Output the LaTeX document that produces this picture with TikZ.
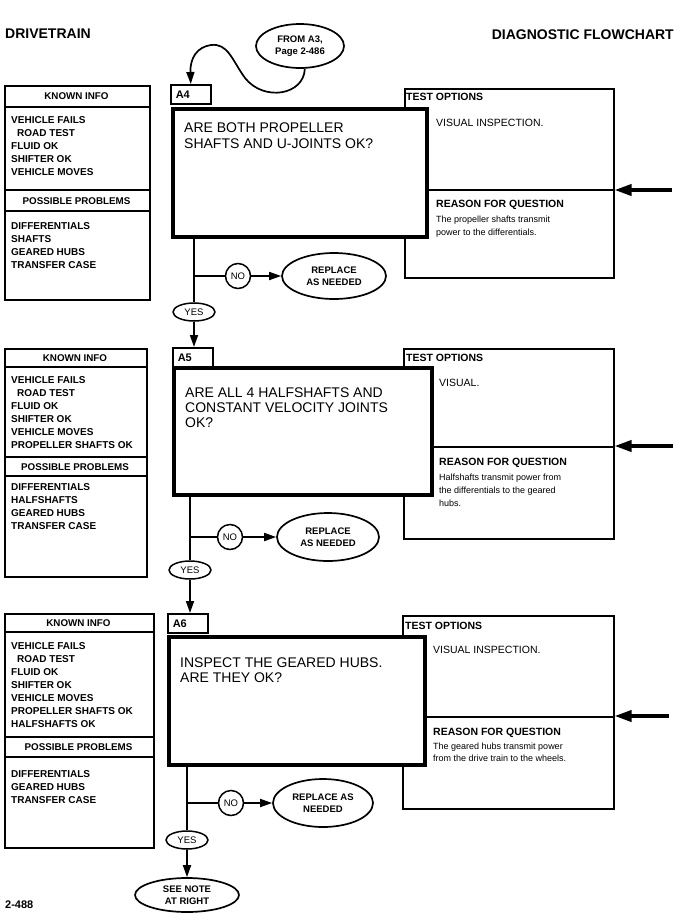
\documentclass[tikz,border=0pt]{standalone}
\usepackage{fontspec}
\setmainfont{Liberation Sans}
\usetikzlibrary{shapes.geometric,arrows.meta}
\tikzset{
  every node/.style={inner sep=0pt},
  hdr/.style={font=\bfseries\fontsize{14}{16}\selectfont, text height=10pt, text depth=0pt},
  pg/.style={anchor=west, font=\bfseries\fontsize{11}{13}\selectfont, text height=7.9pt, text depth=0pt},
  kb/.style={anchor=west, font=\bfseries\fontsize{10}{12}\selectfont, text height=7.2pt, text depth=0pt},
  kh/.style={anchor=center, font=\bfseries\fontsize{9.8}{12}\selectfont, text height=7pt, text depth=0pt},
  qt/.style={anchor=west, font=\fontsize{14}{16}\selectfont, text height=10pt, text depth=0pt},
  toh/.style={anchor=west, font=\bfseries\fontsize{10.5}{12}\selectfont, text height=7.5pt, text depth=0pt},
  tov/.style={anchor=west, font=\fontsize{10.5}{12}\selectfont, text height=7.5pt, text depth=0pt},
  rb/.style={anchor=west, font=\fontsize{9}{11}\selectfont, text height=6.4pt, text depth=0pt},
  lbl/.style={draw, line width=1.5pt, anchor=north west, inner xsep=5pt, text width=30pt, minimum height=19pt, align=left, font=\bfseries\fontsize{11}{12}\selectfont, text height=7.9pt, text depth=0pt},
  thinbox/.style={draw, line width=1.5pt, anchor=north west},
  thin/.style={line width=1.5pt},
  qbox/.style={draw, fill=white, line width=4.2pt, anchor=north west},
  oval/.style={draw, ellipse, line width=1.7pt, align=center, font=\bfseries\fontsize{9.5}{11.5}\selectfont},
  yesov/.style={draw, ellipse, line width=1.5pt, fill=white, minimum width=42pt, minimum height=18pt, font=\fontsize{9.5}{10}\selectfont},
  nocirc/.style={draw, circle, line width=1.5pt, fill=white, minimum size=25pt, font=\fontsize{9.5}{10}\selectfont},
  flow/.style={line width=1.7pt},
  arr/.style={line width=1.7pt, -{Triangle[length=12pt,width=8pt]}},
  bigarr/.style={line width=3.6pt, -{Triangle[length=17pt,width=11pt]}},
}
\begin{document}
\begin{tikzpicture}[x=1pt,y=-1pt]
\useasboundingbox (0,0) rectangle (684,924);
\fill[white] (0,0) rectangle (684,924);

% headers
\node[hdr, anchor=west] (h1) at (5,33) {DRIVETRAIN};
\node[hdr, anchor=east] (h2) at (674,34) {DIAGNOSTIC FLOWCHART};
\node[pg] (pn) at (5,905) {2-488};

% entry
\node[oval, minimum width=88pt, minimum height=44pt] (from) at (300,46) {FROM A3,\\Page 2-486};

% ================= A4 =================
\node[thinbox, minimum width=145pt, minimum height=214pt] (k4) at (4,85) {};
\draw[thin] (4,107) -- (149,107);
\draw[thin] (4,190) -- (149,190);
\draw[thin] (4,211) -- (149,211);
\node[kh] (k4h) at (76.5,96) {KNOWN INFO};
\node[kb] (k4a) at (11,120) {VEHICLE FAILS};
\node[kb] (k4b) at (17,133) {ROAD TEST};
\node[kb] (k4c) at (11,146) {FLUID OK};
\node[kb] (k4d) at (11,159) {SHIFTER OK};
\node[kb] (k4e) at (11,172) {VEHICLE MOVES};
\node[kh] (p4h) at (76.5,201) {POSSIBLE PROBLEMS};
\node[kb] (p4a) at (11,226) {DIFFERENTIALS};
\node[kb] (p4b) at (11,239) {SHAFTS};
\node[kb] (p4c) at (11,252) {GEARED HUBS};
\node[kb] (p4d) at (11,265) {TRANSFER CASE};

\node[lbl] (a4) at (170,84) {A4};
\node[thinbox, minimum width=209pt, minimum height=189pt] (t4) at (404,88) {};
\node[qbox, minimum width=254pt, minimum height=128pt] (q4) at (171,107) {};
\draw[thin] (q4.east |- 0,190) -- (t4.east |- 0,190);
\node[toh] (t4h) at (406,97) {TEST OPTIONS};
\node[tov] (t4v) at (436,123) {VISUAL INSPECTION.};
\node[toh] (r4h) at (436,204) {REASON FOR QUESTION};
\node[rb] (r4a) at (436,219) {The propeller shafts transmit};
\node[rb] (r4b) at (436,232) {power to the differentials.};
\node[qt] (q4a) at (184,127) {ARE BOTH PROPELLER};
\node[qt] (q4b) at (184,143) {SHAFTS AND U-JOINTS OK?};
\coordinate (e4) at (672,190);
\draw[bigarr] (e4) -- (t4.east |- e4);

\draw[arr] (from.282) .. controls (304,95) and (264,102) .. (245,78)
  .. controls (232,60) and (228,43) .. (211,45)
  .. controls (197,47) and (190,58) .. (a4.north);

\node[yesov] (yes4) at (194,312) {YES};
\node[nocirc] (no4) at (238,276) {NO};
\node[oval, minimum width=104pt, minimum height=46pt] (rep4) at (334,276) {REPLACE\\AS NEEDED};
\coordinate (j4) at (194,276);
\draw[flow] (q4.south -| yes4.north) -- (yes4.north);
\draw[flow] (j4) -- (no4.west);
\draw[arr] (no4.east) -- (rep4.west);

% ================= A5 =================
\node[thinbox, minimum width=142pt, minimum height=228pt] (k5) at (4,348) {};
\draw[thin] (4,367) -- (146,367);
\draw[thin] (4,457) -- (146,457);
\draw[thin] (4,476) -- (146,476);
\node[kh] (k5h) at (75,358) {KNOWN INFO};
\node[kb] (k5a) at (11,380) {VEHICLE FAILS};
\node[kb] (k5b) at (17,393) {ROAD TEST};
\node[kb] (k5c) at (11,406) {FLUID OK};
\node[kb] (k5d) at (11,419) {SHIFTER OK};
\node[kb] (k5e) at (11,432) {VEHICLE MOVES};
\node[kb] (k5f) at (11,445) {PROPELLER SHAFTS OK};
\node[kh] (p5h) at (75,467) {POSSIBLE PROBLEMS};
\node[kb] (p5a) at (11,487) {DIFFERENTIALS};
\node[kb] (p5b) at (11,500) {HALFSHAFTS};
\node[kb] (p5c) at (11,513) {GEARED HUBS};
\node[kb] (p5d) at (11,526) {TRANSFER CASE};

\node[lbl] (a5) at (172,347) {A5};
\node[thinbox, minimum width=210pt, minimum height=190pt] (t5) at (403,348) {};
\node[qbox, minimum width=258pt, minimum height=127pt] (q5) at (172,366) {};
\draw[thin] (q5.east |- 0,447) -- (t5.east |- 0,447);
\node[toh] (t5h) at (406,358) {TEST OPTIONS};
\node[tov] (t5v) at (439,383) {VISUAL.};
\node[toh] (r5h) at (439,462) {REASON FOR QUESTION};
\node[rb] (r5a) at (439,477) {Halfshafts transmit power from};
\node[rb] (r5b) at (439,490) {the differentials to the geared};
\node[rb] (r5c) at (439,503) {hubs.};
\node[qt] (q5a) at (185,392) {ARE ALL 4 HALFSHAFTS AND};
\node[qt] (q5b) at (185,407) {CONSTANT VELOCITY JOINTS};
\node[qt] (q5c) at (185,422) {OK?};
\coordinate (e5) at (673,446);
\draw[bigarr] (e5) -- (t5.east |- e5);

\draw[arr] (yes4.south) -- (yes4.south |- a5.north);

\node[yesov] (yes5) at (190,570) {YES};
\node[nocirc] (no5) at (230,537) {NO};
\node[oval, minimum width=102pt, minimum height=48pt] (rep5) at (328,537) {REPLACE\\AS NEEDED};
\coordinate (j5) at (190,537);
\draw[flow] (q5.south -| yes5.north) -- (yes5.north);
\draw[flow] (j5) -- (no5.west);
\draw[arr] (no5.east) -- (rep5.west);

% ================= A6 =================
\node[thinbox, minimum width=149pt, minimum height=234pt] (k6) at (4,613) {};
\draw[thin] (4,632) -- (153,632);
\draw[thin] (4,737) -- (153,737);
\draw[thin] (4,757) -- (153,757);
\node[kh] (k6h) at (78.5,623) {KNOWN INFO};
\node[kb] (k6a) at (11,646) {VEHICLE FAILS};
\node[kb] (k6b) at (17,659) {ROAD TEST};
\node[kb] (k6c) at (11,672) {FLUID OK};
\node[kb] (k6d) at (11,685) {SHIFTER OK};
\node[kb] (k6e) at (11,698) {VEHICLE MOVES};
\node[kb] (k6f) at (11,711) {PROPELLER SHAFTS OK};
\node[kb] (k6g) at (11,724) {HALFSHAFTS OK};
\node[kh] (p6h) at (78.5,747) {POSSIBLE PROBLEMS};
\node[kb] (p6a) at (11,774) {DIFFERENTIALS};
\node[kb] (p6b) at (11,787) {GEARED HUBS};
\node[kb] (p6c) at (11,800) {TRANSFER CASE};

\node[lbl] (a6) at (167,613) {A6};
\node[thinbox, minimum width=211pt, minimum height=193pt] (t6) at (402,615) {};
\node[qbox, minimum width=256pt, minimum height=128pt] (q6) at (167,635) {};
\draw[thin] (q6.east |- 0,717) -- (t6.east |- 0,717);
\node[toh] (t6h) at (405,626) {TEST OPTIONS};
\node[tov] (t6v) at (433,650) {VISUAL INSPECTION.};
\node[toh] (r6h) at (433,732) {REASON FOR QUESTION};
\node[rb] (r6a) at (433,746) {The geared hubs transmit power};
\node[rb] (r6b) at (433,758) {from the drive train to the wheels.};
\node[qt] (q6a) at (180,662) {INSPECT THE GEARED HUBS.};
\node[qt] (q6b) at (180,677) {ARE THEY OK?};
\coordinate (e6) at (669,716);
\draw[bigarr] (e6) -- (t6.east |- e6);

\draw[arr] (yes5.south) -- (yes5.south |- a6.north);

\node[yesov] (yes6) at (187,840) {YES};
\node[nocirc] (no6) at (231,803) {NO};
\node[oval, minimum width=100pt, minimum height=48pt] (rep6) at (323,803) {REPLACE AS\\NEEDED};
\node[oval, minimum width=104pt, minimum height=34pt] (note) at (187,895) {SEE NOTE\\AT RIGHT};
\coordinate (j6) at (187,803);
\draw[flow] (q6.south -| yes6.north) -- (yes6.north);
\draw[flow] (j6) -- (no6.west);
\draw[arr] (no6.east) -- (rep6.west);
\draw[arr] (yes6.south) -- (note.north);
\end{tikzpicture}
\end{document}
